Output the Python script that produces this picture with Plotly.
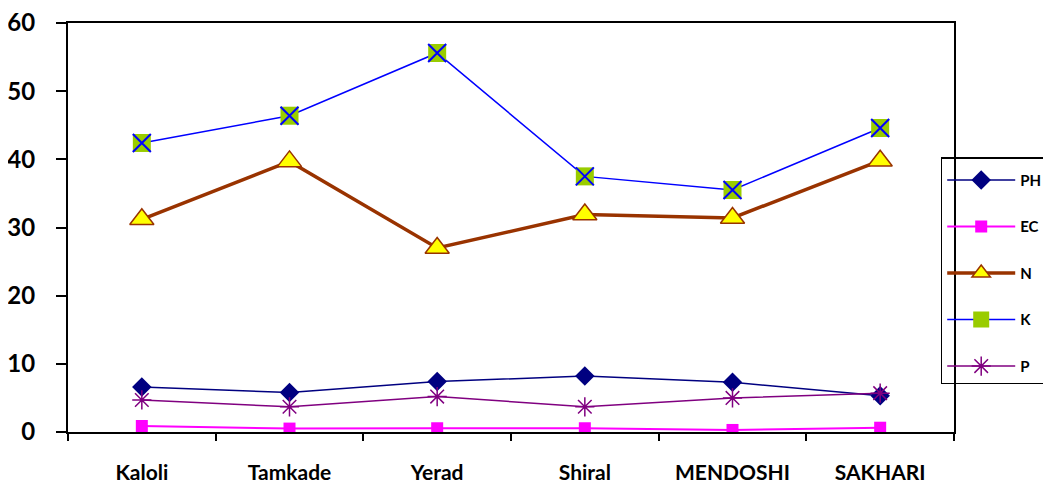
import plotly.graph_objects as go

categories = ["Kaloli", "Tamkade", "Yerad", "Shiral", "MENDOSHI", "SAKHARI"]
ph = [6.6, 5.8, 7.4, 8.2, 7.3, 5.3]
ec = [0.88, 0.5, 0.55, 0.55, 0.3, 0.63]
n_vals = [31.2, 39.7, 27.0, 31.9, 31.4, 39.8]
k_vals = [42.4, 46.4, 55.6, 37.5, 35.5, 44.6]
p_vals = [4.7, 3.7, 5.2, 3.7, 5.0, 5.7]
y_ticks = [0, 10, 20, 30, 40, 50, 60]

FONT = "Lato"

fig = go.Figure()

fig.add_trace(go.Scatter(
    x=categories, y=ph, name="PH", legendgroup="PH", mode="lines+markers",
    line=dict(color="#000080", width=1.5),
    marker=dict(symbol="diamond", size=15, color="#000080", line=dict(width=0)),
))
fig.add_trace(go.Scatter(
    x=categories, y=ec, name="EC", legendgroup="EC", mode="lines+markers",
    line=dict(color="#FF00FF", width=2),
    marker=dict(symbol="square", size=12, color="#FF00FF", line=dict(width=0)),
))
fig.add_trace(go.Scatter(
    x=categories, y=n_vals, name="N", legendgroup="N", mode="lines+markers",
    line=dict(color="#993300", width=3.5),
    marker=dict(symbol="triangle-up", size=21, color="#FFFF00",
                line=dict(color="#993300", width=1.5)),
))
fig.add_trace(go.Scatter(
    x=categories, y=k_vals, name="K", legendgroup="K", mode="lines+markers",
    line=dict(color="#0000FF", width=1.5),
    marker=dict(symbol="square", size=18, color="#99CC00", line=dict(width=0)),
))
fig.add_trace(go.Scatter(
    x=categories, y=k_vals, name="K", legendgroup="K", mode="markers",
    showlegend=False, hoverinfo="skip",
    marker=dict(symbol="x-thin-open", size=18, color="#0000FF",
                line=dict(color="#0000FF", width=2)),
))
fig.add_trace(go.Scatter(
    x=categories, y=p_vals, name="P", legendgroup="P", mode="lines+markers",
    line=dict(color="#800080", width=1.5),
    marker=dict(symbol="asterisk-open", size=16, color="#800080",
                line=dict(color="#800080", width=1.5)),
))

# the page body adds an 8px offset; margins compensate for it
fig.update_layout(
    width=1051, height=484,
    margin=dict(l=60, r=105, t=15, b=60, autoexpand=False),
    paper_bgcolor="white", plot_bgcolor="white",
    font=dict(family=FONT, color="black"),
    showlegend=True,
    legend=dict(
        x=0.985, y=0.672, xanchor="left", yanchor="top",
        bgcolor="rgba(0,0,0,0)", bordercolor="black", borderwidth=1.5,
        font=dict(family=FONT, size=15, weight="bold", color="black"),
        title=dict(text=" ", font=dict(size=4)),
        tracegroupgap=24, itemwidth=68,
    ),
    xaxis=dict(
        type="category", range=[-0.5, 5.5], automargin=False,
        showline=True, linecolor="black", linewidth=2, mirror=True,
        ticks="outside", tickson="boundaries", ticklen=7, tickwidth=2, tickcolor="black",
        tickfont=dict(family=FONT, size=21, weight="bold", color="black"),
        ticklabelstandoff=21, ticklabeloverflow="allow",
        showgrid=False, zeroline=False,
    ),
    yaxis=dict(
        range=[0, 60], tickvals=y_ticks, automargin=False,
        showline=True, linecolor="black", linewidth=2, mirror=True,
        ticks="outside", ticklen=10, tickwidth=2, tickcolor="black",
        tickfont=dict(family=FONT, size=24, weight="bold", color="black"),
        ticklabelstandoff=16, ticklabeloverflow="allow",
        showgrid=False, zeroline=False,
    ),
)

fig.write_html("out.html")
